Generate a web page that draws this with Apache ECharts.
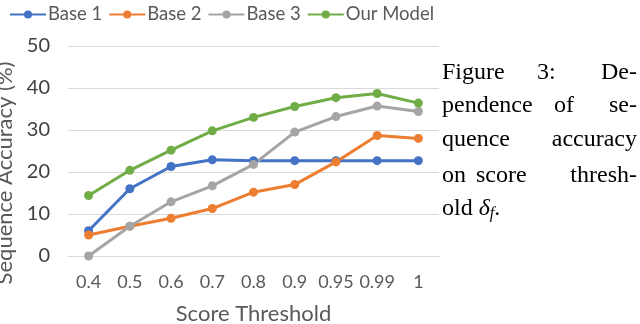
<!DOCTYPE html>
<html><head><meta charset="utf-8">
<script src="https://cdn.jsdelivr.net/npm/echarts@6/dist/echarts.min.js"></script>
<style>html,body{margin:0;padding:0;background:#fff;}#c{width:640px;height:324px;}</style>
</head><body><div id="c"></div>
<script>
const categories = ['0.4','0.5','0.6','0.7','0.8','0.9','0.95','0.99','1'];
const base1 = [6.0, 16.0, 21.3, 22.9, 22.7, 22.7, 22.7, 22.7, 22.7];
const base2 = [5.0, 7.1, 9.0, 11.3, 15.2, 17.0, 22.4, 28.7, 28.0];
const base3 = [0.0, 7.1, 12.9, 16.7, 21.8, 29.5, 33.2, 35.7, 34.4];
const ourModel = [14.4, 20.4, 25.2, 29.8, 33.0, 35.6, 37.7, 38.7, 36.4];
const seriesNames = ['Base 1','Base 2','Base 3','Our Model'];
const colors = ['#4472C4','#ED7D31','#A5A5A5','#70AD47'];
const yTicks = [0, 10, 20, 30, 40, 50];

const chart = echarts.init(document.getElementById('c'), null, {renderer:'canvas'});
const font = 'Lato';
const dataSets = [base1, base2, base3, ourModel];
const capFont = '"Liberation Serif", "DejaVu Serif", serif';
const capStyle = {fontFamily: capFont, fontSize: 24, fill: '#000'};
function word(t, x, y, align) {
  return {type:'text', left: align==='right'? undefined : x, right: align==='right'? x : undefined, top: y, style: Object.assign({text: t}, capStyle)};
}
chart.setOption({
  animation: false,
  color: colors,
  textStyle: {fontFamily: font},
  legend: {
    left: 4, top: 0,
    itemWidth: 36, itemHeight: 10, itemGap: 6,
    textStyle: {fontFamily: font, fontSize: 18.5, color: '#595959', padding: [0,0,0,-3]},
    data: seriesNames
  },
  grid: {left: 68, right: 201, top: 46, bottom: 68, containLabel: false, outerBoundsMode: 'none'},
  xAxis: {
    type: 'category', data: categories, boundaryGap: true,
    axisLine: {show: true, lineStyle: {color: '#d9d9d9', width: 1}},
    axisTick: {show: false},
    axisLabel: {fontFamily: font, fontSize: 18, color: '#595959', margin: 17, interval: 0},
    name: 'Score Threshold', nameLocation: 'middle', nameGap: 47,
    nameTextStyle: {fontFamily: font, fontSize: 22, color: '#595959'}
  },
  yAxis: {
    type: 'value', min: yTicks[0], max: yTicks[yTicks.length-1], interval: 10,
    axisLine: {show: false}, axisTick: {show: false},
    splitLine: {lineStyle: {color: '#d9d9d9', width: 1}},
    axisLabel: {fontFamily: font, fontSize: 20, color: '#404040', margin: 18},
    name: 'Sequence Accuracy (%)', nameLocation: 'middle', nameGap: 38,
    nameTextStyle: {fontFamily: font, fontSize: 22, color: '#595959', padding: [0, 44, 0, 0]}
  },
  series: dataSets.map((d, i) => ({
    name: seriesNames[i], type: 'line', data: d,
    symbol: 'circle', symbolSize: 9,
    lineStyle: {width: 3, color: colors[i]},
    itemStyle: {color: colors[i]}
  })),
  graphic: [
    {type:'rect', left: 439, top: 40, shape:{width: 201, height: 230}, style:{fill:'#fff'}},
    word('Figure', 442, 61), word('3:', 537, 61), word('De-', 3, 61, 'right'),
    word('pendence', 442, 94), word('of', 554, 94), word('se-', 3, 94, 'right'),
    word('quence', 442, 128), word('accuracy', 3, 128, 'right'),
    word('on', 442, 164), word('score', 476, 164), word('thresh-', 3, 164, 'right'),
    {type:'text', left: 442, top: 197, style:{
      text: 'old {d|δ}{s|f}.', fontFamily: capFont, fontSize: 24, fill:'#000',
      rich: {d:{fontFamily: capFont, fontSize: 24, fontStyle:'italic'}, s:{fontFamily: capFont, fontSize: 16, fontStyle:'italic', verticalAlign:'bottom', padding:[9,0,0,0]}}
    }}
  ]
});
</script></body></html>
